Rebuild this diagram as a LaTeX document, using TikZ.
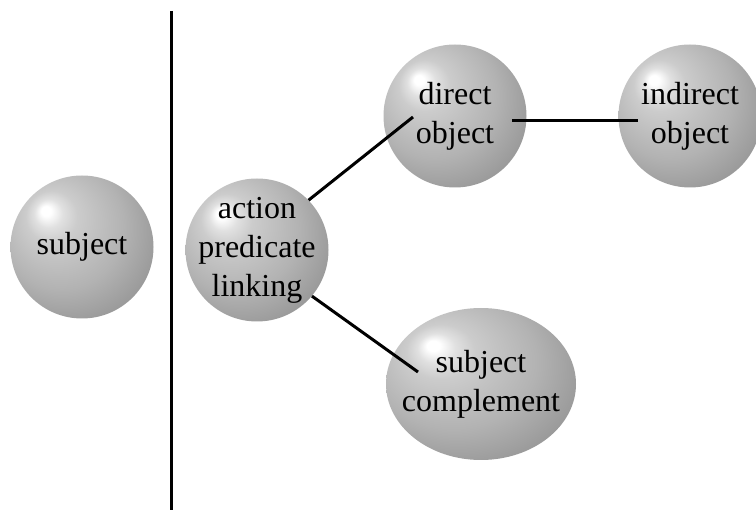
\documentclass[tikz,border=0pt]{standalone}
\usepackage{fontspec}
\setmainfont{Liberation Serif}
\usetikzlibrary{shapes.geometric,calc}

\pgfdeclareradialshading{sphere}{\pgfpoint{-13bp}{13bp}}{%
  color(0bp)=(white); color(1.7bp)=(white); color(5bp)=(black!12);
  color(9bp)=(black!20); color(14bp)=(black!24); color(22bp)=(black!30);
  color(32bp)=(black!40); color(50bp)=(black!45)}

\begin{document}
\begin{tikzpicture}[x=1pt,y=-1pt,
  part/.style={circle,shading=sphere,minimum size=143pt,inner sep=-10pt,
    align=center,font=\fontsize{32}{39}\selectfont},
  link/.style={line width=3pt}]
  \useasboundingbox (0,0) rectangle (756,510);

  \node [part] (subject) at (82,247) {subject};
  \node [part] (action) at (257,250) {action\\predicate\\linking};
  \node [part] (direct) at (455,116) {direct\\object};
  \node [part] (indirect) at (690,116) {indirect\\object};
  \node [part,ellipse,inner xsep=-15pt,inner ysep=0pt,minimum width=190pt,
    minimum height=152pt] (complement) at (481,384) {subject\\complement};

  % divider
  \draw [link] (171,11) -- (171,510);

  \draw [link] (action.44) -- ($(direct)+(-42,1)$);
  \draw [link] ($(direct)+(57,5)$) -- ($(indirect)+(-52,5)$);
  \draw [link] (action.-40) -- ($(complement)+(-63,-12)$);
\end{tikzpicture}
\end{document}
